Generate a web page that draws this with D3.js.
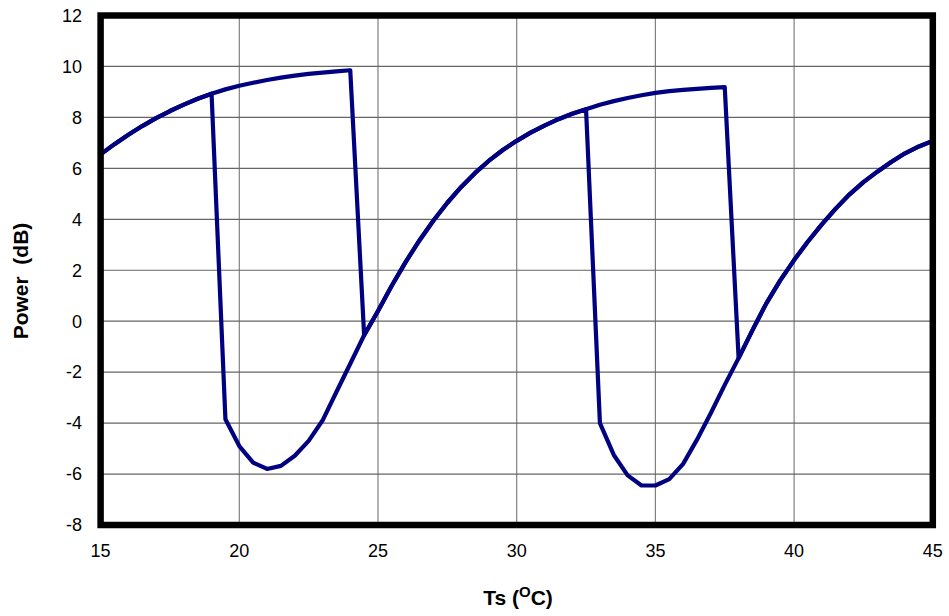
<!DOCTYPE html>
<html>
<head>
<meta charset="utf-8">
<script src="https://cdn.jsdelivr.net/npm/d3@7"></script>
<style>
  body { margin: 0; background: #fff; }
  text { font-family: "Liberation Sans", Arial, sans-serif; fill: #000; }
</style>
</head>
<body>
<svg id="chart" width="949" height="616"></svg>
<script>
// temperature steps (0.5 degC)
const temps = d3.range(61).map(i => 15 + i * 0.5);

// heating sweep: upper branch, drop at 24.5, rise, drop at 38, rise
const heating = [
  6.55, 6.95, 7.32, 7.66, 7.97, 8.25, 8.5, 8.73, 8.93, 9.1, 9.24, 9.36, 9.47, 9.56, 9.64, 9.71, 9.76, 9.81, 9.85,
  -0.55, 0.4, 1.4, 2.33, 3.18, 3.95, 4.65, 5.27, 5.82, 6.3, 6.72, 7.08, 7.4, 7.68, 7.93, 8.14, 8.32,
  8.5, 8.64, 8.76, 8.87, 8.96, 9.03, 9.08, 9.12, 9.16, 9.19,
  -1.45, -0.35, 0.7, 1.6, 2.4, 3.13, 3.8, 4.42, 4.98, 5.46, 5.87, 6.25, 6.59, 6.86, 7.08
];

// cooling sweep: drops early at 19.5 and 33
const cooling = [
  6.55, 6.95, 7.32, 7.66, 7.97, 8.25, 8.5, 8.73, 8.93,
  -3.85, -4.9, -5.55, -5.8, -5.68, -5.28, -4.7, -3.9, -2.78, -1.67,
  -0.55, 0.4, 1.4, 2.33, 3.18, 3.95, 4.65, 5.27, 5.82, 6.3, 6.72, 7.08, 7.4, 7.68, 7.93, 8.14, 8.32,
  -4.0, -5.25, -6.05, -6.45, -6.45, -6.2, -5.6, -4.65, -3.6, -2.5,
  -1.45, -0.35, 0.7, 1.6, 2.4, 3.13, 3.8, 4.42, 4.98, 5.46, 5.87, 6.25, 6.59, 6.86, 7.08
];

const xTicks = [15, 20, 25, 30, 35, 40, 45];
const yTicks = [-8, -6, -4, -2, 0, 2, 4, 6, 8, 10, 12];

const margin = { left: 100.6, right: 16.2, top: 15.5, bottom: 91 };
const width = 949, height = 616;

const svg = d3.select("#chart");

const x = d3.scaleLinear().domain([15, 45]).range([margin.left, width - margin.right]);
const y = d3.scaleLinear().domain([-8, 12]).range([height - margin.bottom, margin.top]);

// gridlines
svg.append("g")
  .selectAll("line")
  .data(xTicks.slice(1, -1))
  .join("line")
    .attr("x1", d => x(d)).attr("x2", d => x(d))
    .attr("y1", y(12)).attr("y2", y(-8))
    .attr("stroke", "#808080").attr("stroke-width", 1.2);

svg.append("g")
  .selectAll("line")
  .data(yTicks.slice(1, -1))
  .join("line")
    .attr("x1", x(15)).attr("x2", x(45))
    .attr("y1", d => y(d)).attr("y2", d => y(d))
    .attr("stroke", "#666").attr("stroke-width", 1.2);

// data lines
const line = d3.line()
  .x((d, i) => x(temps[i]))
  .y(d => y(d));

[heating, cooling].forEach(series => {
  svg.append("path")
    .datum(series)
    .attr("fill", "none")
    .attr("stroke", "#000080")
    .attr("stroke-width", 4.2)
    .attr("stroke-linejoin", "round")
    .attr("d", line);
});

// frame
svg.append("rect")
  .attr("x", x(15)).attr("y", y(12))
  .attr("width", x(45) - x(15)).attr("height", y(-8) - y(12))
  .attr("fill", "none")
  .attr("stroke", "#000")
  .attr("stroke-width", 6.5);

// tick labels
svg.append("g")
  .selectAll("text")
  .data(yTicks)
  .join("text")
    .attr("x", 82)
    .attr("y", d => y(d))
    .attr("dy", "0.35em")
    .attr("text-anchor", "end")
    .attr("font-size", 18)
    .text(d => d);

svg.append("g")
  .selectAll("text")
  .data(xTicks)
  .join("text")
    .attr("x", d => x(d))
    .attr("y", 551)
    .attr("dy", "0.35em")
    .attr("text-anchor", "middle")
    .attr("font-size", 18)
    .text(d => d);

// axis titles
const xt = svg.append("text")
  .attr("x", 518)
  .attr("y", 605)
  .attr("text-anchor", "middle")
  .attr("font-size", 21)
  .attr("font-weight", "bold");
xt.append("tspan").text("Ts (");
xt.append("tspan").attr("dy", -8).attr("font-size", 15).text("O");
xt.append("tspan").attr("dy", 8).text("C)");

svg.append("text")
  .attr("transform", "translate(28,281) rotate(-90)")
  .attr("text-anchor", "middle")
  .attr("font-size", 21)
  .attr("font-weight", "bold")
  .style("white-space", "pre")
  .text("Power  (dB)");
</script>
</body>
</html>
